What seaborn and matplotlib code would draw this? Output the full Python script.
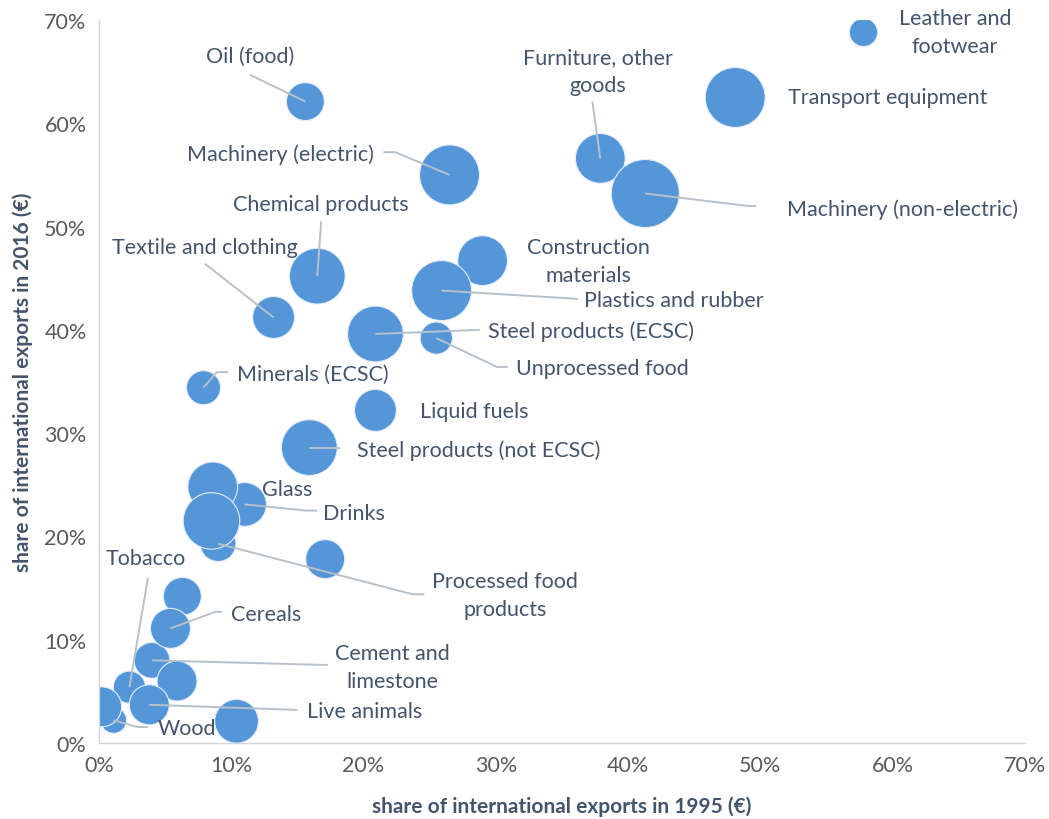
import numpy as np
import pandas as pd
import matplotlib
matplotlib.use("Agg")
import matplotlib.pyplot as plt
import seaborn as sns

# share of international exports (%) in 1995 and 2016, bubble weight
names = ["Leather and\nfootwear", "Transport equipment", "Furniture, other\ngoods",
         "Machinery (non-electric)", "Oil (food)", "Machinery (electric)",
         "Chemical products", "Textile and clothing", "Construction\nmaterials",
         "Plastics and rubber", "Steel products (ECSC)", "Unprocessed food",
         "Minerals (ECSC)", "Liquid fuels", "Steel products (not ECSC)", "Glass",
         "Drinks", "", "Processed food\nproducts", "", "", "Cereals",
         "Cement and\nlimestone", "", "Tobacco", "Live animals", "", "", "Wood"]
share_1995 = [57.8, 48.1, 37.9, 41.3, 15.6, 26.5, 16.5, 13.2, 29.0, 25.9, 20.9, 25.5,
              7.9, 20.9, 15.9, 8.6, 11.0, 8.5, 9.0, 17.1, 6.3, 5.4, 4.0, 5.9, 2.3,
              3.8, 10.4, 0.2, 1.1]
share_2016 = [68.8, 62.5, 56.6, 53.2, 62.1, 55.0, 45.2, 41.2, 46.7, 43.8, 39.6, 39.2,
              34.4, 32.2, 28.6, 24.8, 23.1, 21.5, 19.3, 17.8, 14.2, 11.1, 8.0, 6.0, 5.4,
              3.7, 2.1, 3.5, 2.2]
weight = [20, 90, 62, 116, 36, 90, 78, 44, 62, 90, 78, 26, 29, 44, 78, 62, 48, 80,
          32, 38, 36, 40, 32, 40, 26, 40, 48, 40, 17]

# label placement: text position, alignment, leader path (data coords)
label_pos = {
    "Leather and\nfootwear": ((64.7, 68.8), "center", None),
    "Transport equipment": ((52.1, 62.5), "left", None),
    "Furniture, other\ngoods": ((37.7, 65.1), "center", [(37.3, 62.1)]),
    "Machinery (non-electric)": ((52.0, 51.7), "left", [(49.0, 52.0), (49.7, 52.0)]),
    "Oil (food)": ((11.4, 66.5), "center", [(11.4, 64.7)]),
    "Machinery (electric)": ((20.8, 57.1), "right", [(22.4, 57.2), (21.5, 57.2)]),
    "Chemical products": ((16.8, 52.2), "center", [(16.8, 50.5)]),
    "Textile and clothing": ((8.0, 48.0), "center", [(8.0, 46.4)]),
    "Construction\nmaterials": ((37.0, 46.7), "center", None),
    "Plastics and rubber": ((36.7, 42.9), "left", [(36.2, 43.0)]),
    "Steel products (ECSC)": ((29.4, 39.9), "left", [(28.8, 40.0)]),
    "Unprocessed food": ((31.5, 36.3), "left", [(30.1, 36.4), (30.9, 36.4)]),
    "Minerals (ECSC)": ((10.4, 35.7), "left", [(8.9, 35.9), (9.75, 35.9)]),
    "Liquid fuels": ((24.3, 32.1), "left", None),
    "Steel products (not ECSC)": ((19.5, 28.4), "left", [(18.2, 28.6)]),
    "Glass": ((12.3, 24.6), "left", None),
    "Drinks": ((16.9, 22.3), "left", [(15.7, 22.5), (16.5, 22.5)]),
    "Processed food\nproducts": ((30.7, 14.3), "center", [(23.7, 14.4), (24.6, 14.4)]),
    "Tobacco": ((3.5, 17.9), "center", [(3.7, 16.0)]),
    "Cereals": ((10.0, 12.5), "left", [(8.8, 12.7), (9.3, 12.7)]),
    "Cement and\nlimestone": ((22.2, 7.4), "center", [(17.3, 7.55)]),
    "Live animals": ((15.7, 3.1), "left", [(15.0, 3.2)]),
    "Wood": ((4.4, 1.45), "left", [(2.9, 1.55), (3.7, 1.55)]),
}

df = pd.DataFrame({"name": names, "x": share_1995, "y": share_2016, "w": weight})
df_draw = df.sort_values("w", kind="stable")

sns.set_theme(style="white")
plt.rcParams["font.family"] = ["Lato", "DejaVu Sans"]

text_col = "#44546A"
tick_col = "#595959"
line_col = "#b8c0ca"

fig = plt.figure(figsize=(10.49, 8.2), dpi=100)
ax = fig.add_axes([0.0944, 0.0927, 0.8826, 0.8817])

wmax = max(weight)
sns.scatterplot(data=df_draw, x="x", y="y", size="w", sizes=(0, 20.7 * wmax),
                size_norm=(0, wmax), color="#5596d8", edgecolor="#e3edf7",
                linewidth=0.8, alpha=1, legend=False, ax=ax, zorder=2)

for _, row in df.iterrows():
    if not row["name"]:
        continue
    (tx, ty), ha, path = label_pos[row["name"]]
    if path:
        xs = [row["x"]] + [p[0] for p in path]
        ys = [row["y"]] + [p[1] for p in path]
        ax.plot(xs, ys, color=line_col, lw=1.4, zorder=3, solid_capstyle="butt")
    ax.text(tx, ty, row["name"], ha=ha, va="center", fontsize=15.5, color=text_col,
            linespacing=1.5, zorder=4, clip_on=False)

ax.set_xlim(0, 70)
ax.set_ylim(0, 70)
ticks = np.arange(0, 71, 10)
ax.set_xticks(ticks)
ax.set_yticks(ticks)
ax.set_xticklabels([f"{t}%" for t in ticks])
ax.set_yticklabels([f"{t}%" for t in ticks])
ax.tick_params(axis="both", length=0, labelsize=15.5, labelcolor=tick_col, pad=9)
ax.set_xlabel("share of international exports in 1995 (€)", fontsize=15,
              fontweight="bold", color=text_col, labelpad=14)
ax.set_ylabel("share of international exports in 2016 (€)", fontsize=15,
              fontweight="bold", color=text_col, labelpad=8)

for side in ["top", "right"]:
    ax.spines[side].set_visible(False)
for side in ["left", "bottom"]:
    ax.spines[side].set_color("#d0d5dc")
    ax.spines[side].set_linewidth(1.0)

fig.savefig("out.png", dpi=100)
